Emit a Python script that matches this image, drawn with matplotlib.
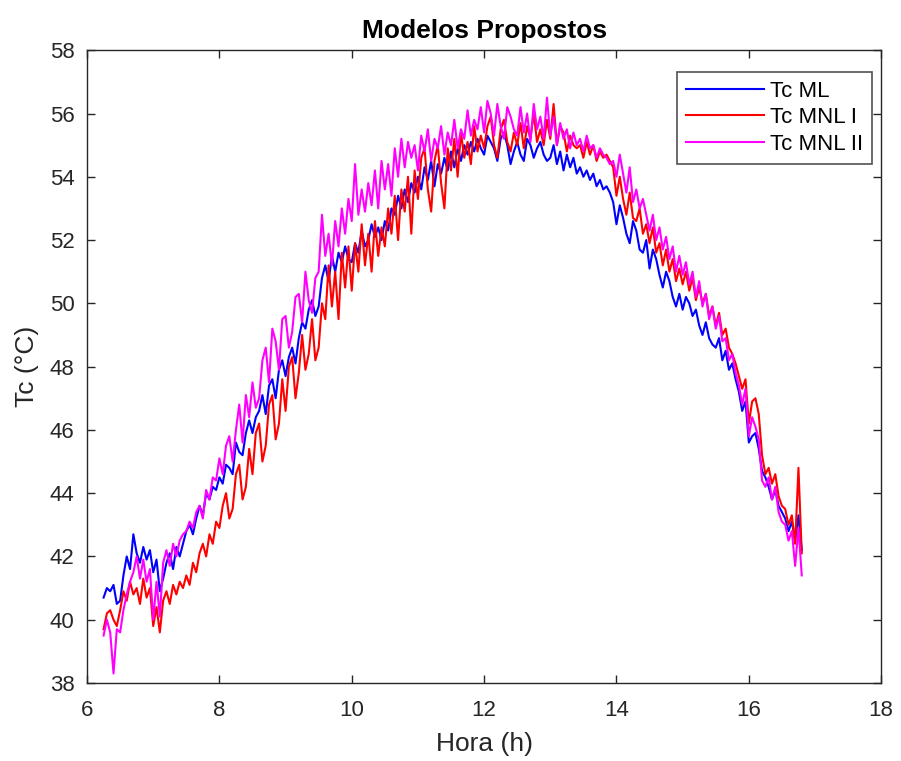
import numpy as np
import matplotlib
matplotlib.use("Agg")
import matplotlib.pyplot as plt

plt.rcParams['font.family'] = ['Liberation Sans', 'DejaVu Sans']

t_start, t_end = 6.25, 16.80

tc_ml = [
    40.7, 41.0, 40.9, 41.1, 40.5,
    40.6, 41.4, 42.0, 41.6, 42.7, 42.1, 41.8, 42.3, 41.9, 42.2,
    41.5, 41.9, 40.9, 41.3, 41.8, 42.1, 41.6, 42.3, 42.0, 42.4,
    42.8, 43.0, 42.7, 43.2, 43.6, 43.3, 44.0, 43.8, 44.2, 44.1,
    44.5, 44.3, 44.9, 44.8, 44.6, 45.6, 45.3, 45.2, 45.9, 46.3,
    45.9, 46.4, 46.6, 47.1, 46.5, 47.4, 47.6, 47.0, 47.9, 48.2,
    47.7, 48.3, 48.6, 48.1, 48.9, 49.4, 49.2, 49.8, 50.1, 49.6,
    49.9, 50.8, 51.2, 50.7, 51.5, 51.0, 51.6, 51.3, 51.8, 51.4,
    51.3, 51.9, 51.6, 52.3, 51.8, 52.0, 52.5, 52.1, 52.4, 52.0,
    52.6, 52.3, 53.0, 52.8, 53.4, 53.0, 53.6, 53.2, 53.8, 53.5,
    54.0, 53.6, 54.3, 53.9, 54.5, 53.7, 54.4, 54.1, 54.6, 54.2,
    54.8, 54.3, 54.9, 54.5, 55.0, 54.7, 55.1, 54.8, 55.2, 54.9,
    54.7, 55.3, 55.1, 54.9, 54.5, 55.2, 55.4, 55.0, 54.4, 54.8,
    55.1, 54.7, 54.5, 55.2, 55.0, 54.6, 54.9, 55.1, 54.7, 54.5,
    54.6, 55.0, 54.4, 54.8, 54.2, 54.7, 54.3, 54.6, 54.1, 54.3,
    54.0, 54.2, 53.9, 54.1, 53.7, 53.9, 53.6, 53.7, 53.5, 53.2,
    52.5, 53.1, 52.7, 52.2, 51.9, 52.6, 52.3, 51.7, 51.6, 52.0,
    51.1, 51.7, 51.4, 50.9, 50.5, 51.0, 50.7, 50.2, 49.9, 50.3,
    49.8, 50.2, 50.0, 49.6, 49.8, 49.3, 49.0, 49.4, 48.9, 48.7,
    48.6, 48.9, 48.2, 48.5, 47.9, 48.1, 47.6, 47.2, 46.6, 46.9,
    45.6, 45.8, 45.9, 45.4, 44.7, 44.5, 44.2, 43.8, 44.1, 43.6,
    43.4, 43.2, 42.8, 43.1, 42.5, 43.3, 42.2,
]

tc_mnl1 = [
    39.7, 40.2, 40.3, 40.0, 39.8,
    40.3, 40.9, 40.6, 41.2, 40.8, 41.0, 40.5, 41.3, 40.7, 41.0,
    39.8, 40.4, 39.6, 40.6, 40.9, 40.5, 41.1, 40.8, 41.2, 41.0,
    41.4, 41.1, 41.8, 41.5, 42.1, 42.4, 42.0, 42.7, 42.4, 43.1,
    42.9, 43.6, 44.0, 43.2, 43.5, 44.6, 44.9, 43.8, 44.2, 45.4,
    44.6, 45.9, 46.2, 45.0, 45.5, 46.8, 47.1, 45.7, 46.2, 47.6,
    46.6, 48.0, 48.3, 47.0, 47.8, 49.0, 47.9, 48.4, 49.5, 48.2,
    48.6, 50.0, 49.5, 51.2, 49.9, 51.0, 49.5, 51.6, 50.5, 51.8,
    50.4, 51.9, 51.0, 52.5, 51.2, 52.2, 51.0, 52.6, 51.5, 52.4,
    51.8, 53.0, 52.2, 53.4, 52.0, 53.6, 52.9, 54.0, 52.2, 54.2,
    53.3, 54.6, 54.9, 53.6, 52.9, 54.5, 55.0, 53.8, 53.0, 54.9,
    54.2, 55.2, 54.0, 55.4, 54.6, 55.1, 54.4, 55.6, 54.8, 55.3,
    54.9, 55.6, 55.9, 55.0, 54.6, 55.5, 55.8, 55.1, 54.8, 55.4,
    55.0, 55.7, 54.9, 55.6, 55.2, 56.0, 55.1, 55.5, 55.0, 55.8,
    55.2, 56.3, 55.0, 55.6, 55.4, 54.8, 55.3, 55.0, 54.9, 55.0,
    54.6, 55.1, 54.7, 55.0, 54.5, 54.8, 54.6, 54.7, 54.5, 54.3,
    53.4, 54.0, 53.3, 52.8, 53.5, 52.7, 52.6, 53.0, 52.2, 52.5,
    51.9, 52.4, 51.6, 51.9, 51.2, 51.7, 51.0, 51.4, 50.7, 51.1,
    50.6, 51.0, 50.4, 50.8, 50.1, 50.5, 50.0, 50.3, 49.6, 49.9,
    49.3, 49.7, 49.0, 49.2, 48.6, 48.4, 48.1, 47.7, 47.3, 47.6,
    46.2, 46.9, 47.0, 46.5, 45.2, 44.6, 44.8, 44.3, 44.6, 43.9,
    43.6, 43.5, 43.0, 43.3, 42.4, 44.8, 42.1,
]

tc_mnl2 = [
    39.5, 40.0, 39.6, 38.3, 39.7,
    39.6, 40.3, 40.8, 41.2, 41.5, 42.0, 41.3, 41.9, 41.2, 41.6,
    40.0, 41.2, 40.1, 41.8, 42.2, 41.7, 42.4, 42.0, 42.5, 42.7,
    42.8, 43.1, 42.9, 43.4, 43.6, 43.2, 44.1, 43.8, 44.5, 44.4,
    45.1, 44.6, 45.5, 45.8, 45.0, 46.0, 46.8, 45.6, 47.1, 46.4,
    47.5, 46.7, 47.0, 48.2, 48.6, 47.5, 49.2, 48.8, 47.9, 49.5,
    49.6, 48.6, 49.1, 50.2, 50.3, 49.4, 51.0, 50.1, 49.7, 50.8,
    51.0, 52.8, 51.5, 52.2, 51.2, 52.6, 51.8, 53.0, 52.2, 53.3,
    52.6, 54.4, 52.8, 53.6, 52.9, 53.8, 53.1, 54.2, 53.0, 54.5,
    53.6, 54.4, 53.4, 54.9, 54.0, 55.2, 54.3, 55.1, 54.6, 55.0,
    54.2, 55.3, 54.8, 55.5, 54.5, 55.2, 54.9, 55.6, 54.7, 55.4,
    55.0, 55.8, 54.9, 55.5, 55.2, 56.1, 55.3, 55.8, 55.5, 56.2,
    55.4, 56.4, 56.0, 55.3, 56.3, 55.6, 55.2, 56.2, 55.9, 55.5,
    55.3, 56.2, 55.4, 56.0, 55.1, 56.3, 55.5, 55.9, 55.2, 56.5,
    55.3, 55.9, 55.0, 55.7, 55.2, 55.5, 54.9, 55.4, 55.0, 55.2,
    54.8, 55.3, 54.9, 55.0, 54.6, 54.9, 54.7, 54.6, 54.4, 54.5,
    54.0, 54.7, 54.1, 53.5, 54.3, 53.2, 53.6, 53.0, 53.3, 52.8,
    52.3, 52.8, 52.0, 52.4, 51.7, 52.1, 51.4, 51.8, 51.0, 51.5,
    50.9, 51.3, 50.6, 51.0, 50.2, 50.7, 49.9, 50.3, 49.5, 49.9,
    49.2, 49.6, 48.8, 48.9, 48.2, 48.4, 47.8, 47.4, 46.8, 47.3,
    45.8, 46.4, 46.1, 45.7, 44.4, 44.2, 44.5, 43.8, 44.2, 43.4,
    43.1, 43.0, 42.5, 42.8, 41.7, 42.9, 41.4,
]

labels = ['Tc ML', 'Tc MNL I', 'Tc MNL II']
colors = ['#0000ff', '#ff0000', '#ff00ff']
x_ticks = [6, 8, 10, 12, 14, 16, 18]
y_ticks = [38, 40, 42, 44, 46, 48, 50, 52, 54, 56, 58]

t = np.linspace(t_start, t_end, len(tc_ml))

fig = plt.figure(figsize=(9.01, 7.61), dpi=100)
ax = fig.add_axes([0.0966, 0.1025, 0.8814, 0.8315])

for y, lab, c in zip([tc_ml, tc_mnl1, tc_mnl2], labels, colors):
    ax.plot(t, y, color=c, lw=1.5, label=lab)

ax.set_xlim(6, 18)
ax.set_ylim(38, 58)
ax.set_xticks(x_ticks)
ax.set_yticks(y_ticks)
ax.tick_params(direction='in', top=True, right=True, labelsize=16,
               length=6, width=1, colors='#262626')
ax.tick_params(axis='x', pad=12)
ax.tick_params(axis='y', pad=9)
for s in ax.spines.values():
    s.set_color('#262626')
    s.set_linewidth(1)

ax.set_title('Modelos Propostos', fontsize=19, fontweight='bold', pad=9)
ax.set_xlabel('Hora (h)', fontsize=19, color='#262626', labelpad=8)
ax.set_ylabel('Tc (°C)', fontsize=19, color='#262626', labelpad=8)

leg = ax.legend(loc='upper right', fontsize=16, frameon=True, fancybox=False,
                edgecolor='#262626', bbox_to_anchor=(0.988, 0.966),
                borderaxespad=0.0, handlelength=3.5,
                handletextpad=0.25, labelspacing=0.25, borderpad=0.4)
leg.get_frame().set_linewidth(1.2)

fig.savefig('out.png', dpi=100)
